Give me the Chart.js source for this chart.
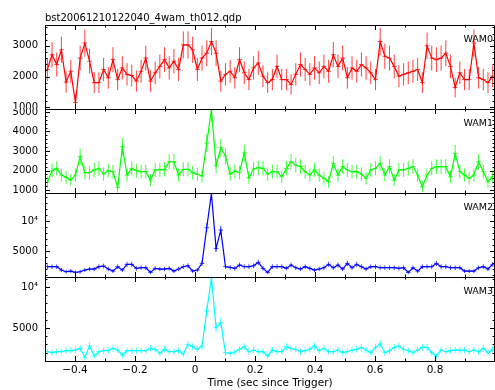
<!DOCTYPE html>
<html>
<head>
<meta charset="utf-8">
<script src="https://cdn.jsdelivr.net/npm/chart.js@4/dist/chart.umd.min.js"></script>
<style>
  html, body { margin: 0; padding: 0; background: #fff; }
  #wrap { width: 495px; height: 390px; position: relative; }
</style>
</head>
<body>
<div id="wrap"><canvas id="c" width="495" height="390"></canvas></div>
<script>
// Light curve of the four WAM detectors, 1/64 s bins, counts/s
const plotTitle = 'bst20061210122040_4wam_th012.qdp';
const xTitle = 'Time (sec since Trigger)';
const panelNames = ['WAM0', 'WAM1', 'WAM2', 'WAM3'];
const binWidth = 1 / 64;   // seconds
const tStart = -0.5;       // start of first bin

const wam0 = [
  2230, 2710, 2390, 2870, 1820, 2170, 1150, 2600, 3090, 2500,
  1800, 1800, 2230, 1960, 2550, 1900, 2280, 2070, 2030, 1850,
  2170, 2600, 1850, 2120, 2330, 2550, 2280, 2500, 2230, 3030,
  3030, 2870, 2230, 2600, 2760, 3140, 2760, 1850, 2070, 2170,
  1960, 2550, 2120, 1900, 2280, 2440, 2010, 1800, 1900, 2330,
  1900, 1900, 1740, 2070, 2390, 2230, 2070, 2280, 2120, 2330,
  2170, 2710, 2330, 2600, 1960, 2280, 2170, 2390, 2280, 2120,
  1900, 3140, 2660, 2600, 2330, 2010, 2070, 2120, 2170, 2230,
  1800, 3000, 2600, 2550, 2600, 2760, 2330, 1640, 2120, 1900,
  1900, 3090, 1960, 1900, 1800, 2010
];
const wam1 = [
  1400, 1990, 2110, 1770, 1650, 1510, 1770, 2710, 1890, 1890,
  2030, 2110, 1820, 1990, 1940, 1140, 3220, 1770, 2110, 1990,
  1940, 1940, 1510, 2030, 2030, 2060, 2450, 2450, 1770, 2060,
  2060, 1890, 1810, 1720, 3400, 5100, 2250, 3170, 2740, 1820,
  1970, 1900, 2900, 1630, 2080, 2150, 2110, 1820, 1940, 1940,
  1680, 2110, 2450, 2280, 2200, 1940, 1770, 2030, 1770, 1600,
  1430, 2370, 1770, 2200, 2030, 1940, 1940, 1820, 1600, 2030,
  2110, 2370, 1770, 2200, 1510, 2030, 2030, 2110, 2200, 1770,
  1170, 1770, 2110, 2200, 2200, 2200, 1680, 2880, 1940, 1770,
  1600, 1770, 2450, 1940, 1430, 1680
];
const wam2 = [
  2390, 2390, 2390, 1830, 1550, 1660, 1440, 1550, 1830, 2000,
  2000, 2390, 2500, 2000, 1660, 2390, 1830, 2780, 2780, 2110,
  2220, 2220, 1440, 2110, 2000, 2000, 2110, 1660, 2000, 2390,
  2550, 1660, 1830, 2950, 8900, 14600, 5450, 8500, 2400, 2270,
  2100, 2670, 2390, 2390, 2550, 3110, 2110, 1440, 2390, 2390,
  2390, 2110, 2670, 2220, 2000, 2390, 2110, 1830, 2000, 2220,
  2780, 2220, 2670, 2000, 2940, 2220, 2780, 2390, 2000, 2390,
  2390, 2220, 2220, 2220, 2220, 2110, 2220, 1440, 2220, 1660,
  2390, 2390, 2390, 2940, 2390, 2390, 2220, 2220, 2220, 1660,
  1660, 1660, 2220, 2390, 2000, 2780
];
const wam3 = [
  2110, 1990, 2110, 2110, 2230, 2230, 2310, 2520, 1420, 2800,
  1580, 2110, 2230, 2230, 2520, 2310, 1700, 2230, 2230, 2230,
  2230, 2230, 2520, 2400, 1910, 2400, 2110, 2110, 2230, 1830,
  3010, 2720, 2400, 2800, 7070, 11100, 5040, 5650, 1990, 1910,
  2070, 2400, 2720, 2110, 2310, 2110, 2110, 1580, 2310, 2110,
  2110, 2720, 2520, 2400, 2110, 2230, 2400, 2800, 2230, 2520,
  2110, 2110, 2310, 1990, 2110, 2310, 2400, 2640, 2310, 1990,
  2640, 3050, 1990, 2230, 2640, 2800, 2400, 2230, 1990, 2310,
  2640, 2640, 1990, 1580, 2310, 2110, 2230, 2310, 2310, 2310,
  2110, 2310, 2110, 2520, 1990, 2400
];

// Axis ranges and tick values for each panel
const yMin = [940, 850, 670, 975];
const yMax = [3680, 5150, 14700, 11220];
const yTicks0 = [1000, 2000, 3000];
const yTicks1 = [1000, 2000, 3000, 4000, 5000];
const yTicks2 = [5000, 10000];
const yTicks3 = [5000, 10000];
const yMinorStep = [200, 200, 1000, 1000];
const xTicks = [-0.4, -0.2, 0, 0.2, 0.4, 0.6, 0.8];
const xMinorStep = 0.1;

const series = [wam0, wam1, wam2, wam3];
const yTicks = [yTicks0, yTicks1, yTicks2, yTicks3];
const lineColors = ['#ff0000', '#00ff00', '#0000ff', '#00ffff'];
const timeBins = wam0.map((_, i) => tStart + (i + 0.5) * binWidth);

const FONT = 'DejaVu Sans';

function fmtX(v) {
  if (Math.abs(v) < 1e-9) return '0';
  return (v < 0 ? '\u2212' : '') + Math.abs(v).toFixed(1);
}
function fmtY(v) {
  return v === 10000 ? '10\u2074' : String(v);
}

// Frames, inward tick marks, error bars and panel names
const panelPlugin = {
  id: 'panels',
  beforeDraw(chart) {
    // keep each panel's tick labels inside its own band
    for (let p = 0; p < 4; p++) {
      const s = chart.scales['y' + p];
      if (s && !s._bandClip) {
        const orig = s.drawLabels;
        s.drawLabels = function (area) {
          const c = this.ctx;
          c.save();
          c.beginPath();
          c.rect(0, this.top, this.right, this.bottom - this.top);
          c.clip();
          orig.call(this, area);
          c.restore();
        };
        s._bandClip = true;
      }
    }
  },
  beforeDatasetsDraw(chart) {
    const ctx = chart.ctx;
    const xs = chart.scales.x;
    for (let p = 0; p < 4; p++) {
      const ys = chart.scales['y' + p];
      ctx.save();
      ctx.beginPath();
      ctx.rect(xs.left, ys.top, xs.right - xs.left, ys.bottom - ys.top);
      ctx.clip();
      ctx.strokeStyle = lineColors[p];
      ctx.globalAlpha = 0.75;
      ctx.lineWidth = 1;
      ctx.beginPath();
      series[p].forEach((v, i) => {
        const t = timeBins[i];
        const err = Math.sqrt(v / binWidth);
        const px = xs.getPixelForValue(t);
        const py = ys.getPixelForValue(v);
        ctx.moveTo(px, ys.getPixelForValue(v - err));
        ctx.lineTo(px, ys.getPixelForValue(v + err));
        ctx.moveTo(xs.getPixelForValue(t - binWidth / 2), py);
        ctx.lineTo(xs.getPixelForValue(t + binWidth / 2), py);
      });
      ctx.stroke();
      ctx.restore();
    }
  },
  afterDatasetsDraw(chart) {
    const ctx = chart.ctx;
    const xs = chart.scales.x;
    const L = xs.left, R = xs.right;
    ctx.save();
    ctx.strokeStyle = '#000';
    ctx.lineWidth = 1;
    const major = 5, minor = 2.5;
    for (let p = 0; p < 4; p++) {
      const ys = chart.scales['y' + p];
      const T = ys.top, B = ys.bottom;
      ctx.beginPath();
      ctx.rect(L + 0.5, T + 0.5, R - L - 1, B - T);
      // x ticks on top and bottom edges
      const xMinor = [];
      for (let k = Math.ceil(xs.min / xMinorStep); k * xMinorStep <= xs.max + 1e-9; k++) {
        const v = +(k * xMinorStep).toFixed(6);
        if (!xTicks.some(m => Math.abs(m - v) < 1e-9)) xMinor.push(v);
      }
      xTicks.forEach(v => {
        const px = Math.round(xs.getPixelForValue(v)) + 0.5;
        ctx.moveTo(px, T); ctx.lineTo(px, T + major);
        ctx.moveTo(px, B); ctx.lineTo(px, B - major);
      });
      xMinor.forEach(v => {
        const px = Math.round(xs.getPixelForValue(v)) + 0.5;
        ctx.moveTo(px, T); ctx.lineTo(px, T + minor);
        ctx.moveTo(px, B); ctx.lineTo(px, B - minor);
      });
      // y ticks on left and right edges
      const step = yMinorStep[p];
      for (let v = Math.ceil(ys.min / step) * step; v <= ys.max; v += step) {
        const isMajor = yTicks[p].includes(v);
        const len = isMajor ? major : minor;
        const py = Math.round(ys.getPixelForValue(v)) + 0.5;
        ctx.moveTo(L, py); ctx.lineTo(L + len, py);
        ctx.moveTo(R, py); ctx.lineTo(R - len, py);
      }
      ctx.stroke();
      // detector name
      ctx.fillStyle = '#000';
      ctx.font = '9.5px "' + FONT + '"';
      ctx.textAlign = 'right';
      ctx.textBaseline = 'alphabetic';
      ctx.fillText(panelNames[p], R - 2, T + 17);
    }
    // file name above the plot
    ctx.font = '10px "' + FONT + '"';
    ctx.textAlign = 'left';
    ctx.fillText(plotTitle, L, 21);
    ctx.restore();
  }
};

const scales = {
  x: {
    type: 'linear',
    position: 'bottom',
    min: tStart,
    max: tStart + series[0].length * binWidth,
    afterBuildTicks: s => { s.ticks = xTicks.map(v => ({ value: v })); },
    afterFit: s => { s.height = 29; },
    grid: { display: false, drawTicks: false },
    border: { display: false },
    ticks: {
      padding: 3,
      autoSkip: false,
      maxRotation: 0,
      color: '#000',
      font: { family: FONT, size: 10.5 },
      callback: v => fmtX(v)
    },
    title: {
      display: true,
      text: xTitle,
      color: '#000',
      font: { family: FONT, size: 10.5 },
      padding: { top: 0, bottom: 0 }
    }
  }
};
for (let p = 0; p < 4; p++) {
  scales['y' + p] = {
    type: 'linear',
    position: 'left',
    stack: 'wam',
    stackWeight: 1,
    weight: 4 - p,
    min: yMin[p],
    max: yMax[p],
    afterBuildTicks: s => { s.ticks = yTicks[p].map(v => ({ value: v })); },
    afterFit: s => { s.width = 45; },
    grid: { display: false, drawTicks: false },
    border: { display: false },
    ticks: {
      padding: 7,
      autoSkip: false,
      color: '#000',
      font: { family: FONT, size: 10 },
      callback: v => fmtY(v)
    }
  };
}

const chart = new Chart(document.getElementById('c'), {
  type: 'line',
  data: {
    datasets: series.map((vals, p) => ({
      label: panelNames[p],
      data: vals.map((v, i) => ({ x: timeBins[i], y: v })),
      xAxisID: 'x',
      yAxisID: 'y' + p,
      borderColor: lineColors[p],
      borderWidth: 1.2,
      pointRadius: 0,
      tension: 0,
      fill: false
    }))
  },
  options: {
    responsive: false,
    animation: false,
    devicePixelRatio: 1,
    events: [],
    layout: { padding: { top: 25, left: 0, right: 0, bottom: 0 } },
    plugins: { legend: { display: false }, tooltip: { enabled: false } },
    scales: scales
  },
  plugins: [panelPlugin]
});
</script>
</body>
</html>
